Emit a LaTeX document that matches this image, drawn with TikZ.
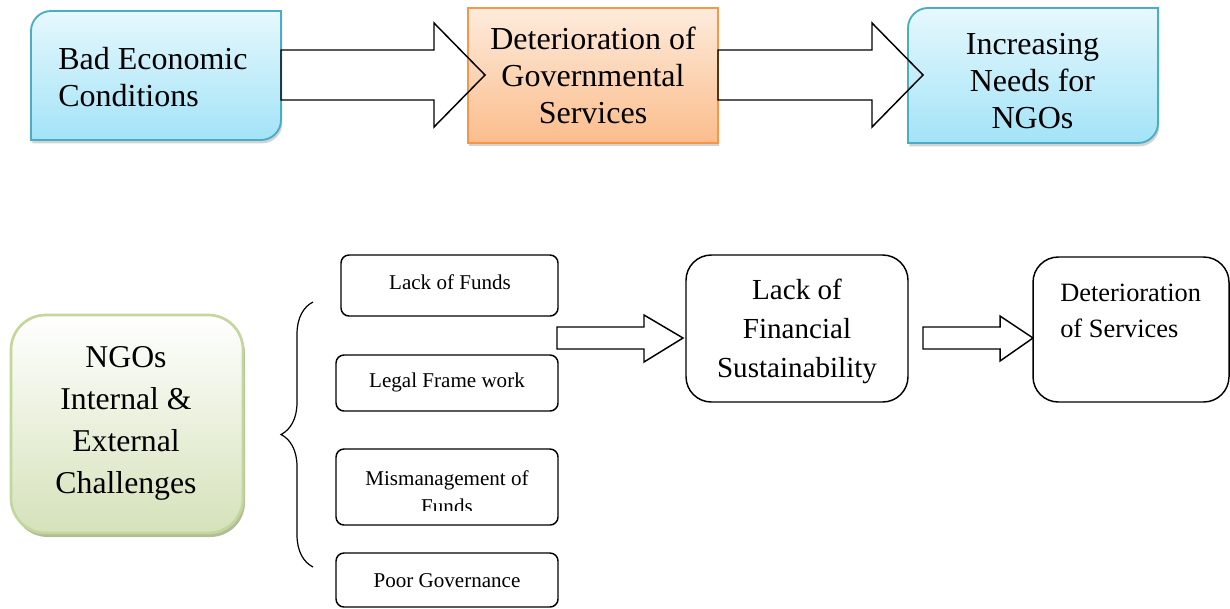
\documentclass[tikz,border=0pt]{standalone}
\usepackage{fontspec}
\setmainfont{Liberation Serif}
\usetikzlibrary{shadows,decorations.pathreplacing,calc}
\definecolor{bluetop}{HTML}{E6F8FD}
\definecolor{bluebot}{HTML}{A3E3F7}
\definecolor{blueline}{HTML}{4BACC6}
\definecolor{orangetop}{HTML}{FDEBDC}
\definecolor{orangebot}{HTML}{FBBD8C}
\definecolor{orangeline}{HTML}{F79646}
\definecolor{greentop}{HTML}{FFFFFF}
\definecolor{greenbot}{HTML}{D5E2BA}
\definecolor{greenline}{HTML}{C3D69B}
\definecolor{greenshadow}{HTML}{9DAD80}
\begin{document}
\begin{tikzpicture}[x=0.75pt,y=-0.75pt,
  bluebox/.style={draw=blueline, line width=1.4pt, top color=bluetop, bottom color=bluebot,
    drop shadow={opacity=0.35, shadow xshift=1pt, shadow yshift=-2.5pt}},
  orangebox/.style={draw=orangeline, line width=1.4pt, top color=orangetop, bottom color=orangebot,
    drop shadow={opacity=0.35, shadow xshift=1pt, shadow yshift=-2.5pt}},
  greenbox/.style={draw=greenline, line width=2pt, top color=greentop, bottom color=greenbot,
    rounded corners=26pt,
    drop shadow={color=greenshadow, opacity=0.8, shadow xshift=1.5pt, shadow yshift=-3pt}},
  bigtext/.style={font=\fontsize{24pt}{27.75pt}\selectfont, inner sep=0pt},
  smallbox/.style={draw, line width=1.1pt, rounded corners=6pt, inner sep=0pt,
    font=\fontsize{15.8pt}{21pt}\selectfont},
  midbox/.style={draw, line width=1.1pt, rounded corners=19pt, inner sep=0pt},
  blockarrow/.style={draw, line width=1.1pt, line join=miter},
]
\useasboundingbox (0,0) rectangle (1230,608);

% ---------- top row ----------
\path[bluebox] (31,140) -- (31,31) arc[start angle=180,end angle=270,radius=20]
  -- (281,11) -- (281,120) arc[start angle=0,end angle=90,radius=20] -- cycle;
\node[bigtext, anchor=west, align=left] (bad) at (58,77) {Bad Economic\\Conditions};

\node[orangebox, minimum width=187.5pt, minimum height=101.25pt, inner sep=0pt,
  bigtext, align=center] (gov) at (593,75.5) {Deterioration of\\Governmental\\Services};

\path[bluebox] (908,143) -- (908,28) arc[start angle=180,end angle=270,radius=20]
  -- (1158,8) -- (1158,123) arc[start angle=0,end angle=90,radius=20] -- cycle;
\node[bigtext, align=center] (needs) at (1032.5,81) {Increasing\\Needs for\\NGOs};

\draw[blockarrow] (281,50) -- (434,50) -- (434,23) -- (485,75) -- (434,127) -- (434,100) -- (281,100) -- cycle;
\draw[blockarrow] (718,50) -- (872,50) -- (872,23) -- (923,75) -- (872,127) -- (872,100) -- (718,100) -- cycle;

% ---------- bottom row ----------
\node[greenbox, minimum width=174pt, minimum height=163.5pt, inner sep=0pt] (ngo) at (127,424) {};
\node[font=\fontsize{23.8pt}{31.5pt}\selectfont, align=center, inner sep=0pt] (ngot) at (126,423)
  {NGOs\\Internal \&\\External\\Challenges};

\draw[line width=0.9pt, decorate, decoration={brace, amplitude=24pt}] (313,567) -- (313,302);

\node[smallbox, minimum width=162.75pt, minimum height=45.75pt] (funds) at (449.5,285.5) {};
\node[font=\fontsize{15.8pt}{21pt}\selectfont, inner sep=0pt] (fundst) at (450,282) {Lack of Funds};
\node[smallbox, minimum width=166.5pt, minimum height=42pt] (legal) at (447,383) {};
\node[font=\fontsize{15.8pt}{21pt}\selectfont, inner sep=0pt] (legalt) at (447,382) {Legal Frame work};
\node[smallbox, minimum width=166.5pt, minimum height=57pt] (mism) at (447,487) {};
\begin{scope}
  \clip (336,449) rectangle (558,510);
  \node[font=\fontsize{15.8pt}{21pt}\selectfont, align=center, inner sep=0pt] (mismt) at (447,492)
    {Mismanagement of\\Funds};
\end{scope}
\node[smallbox, minimum width=166.5pt, minimum height=40.5pt] (poor) at (447,580) {};
\node[font=\fontsize{15.8pt}{21pt}\selectfont, inner sep=0pt] (poort) at (447,581) {Poor Governance};

\node[midbox, minimum width=166.5pt, minimum height=110.25pt] (fin) at (797,328.5) {};
\node[font=\fontsize{21.8pt}{29.25pt}\selectfont, align=center, inner sep=0pt] (fint) at (797,331)
  {Lack of\\Financial\\Sustainability};
\node[midbox, minimum width=147pt, minimum height=108.75pt] (serv) at (1131,329.5) {};
\node[font=\fontsize{19.8pt}{27pt}\selectfont, align=left, anchor=west, inner sep=0pt] (servt)
  at (1060,311) {Deterioration\\of Services};

\draw[blockarrow] (557,327) -- (644,327) -- (644,315) -- (683,338) -- (644,362) -- (644,349) -- (557,349) -- cycle;
\draw[blockarrow] (923,327) -- (1000,327) -- (1000,316) -- (1033,338) -- (1000,361) -- (1000,349) -- (923,349) -- cycle;
\end{tikzpicture}
\end{document}
